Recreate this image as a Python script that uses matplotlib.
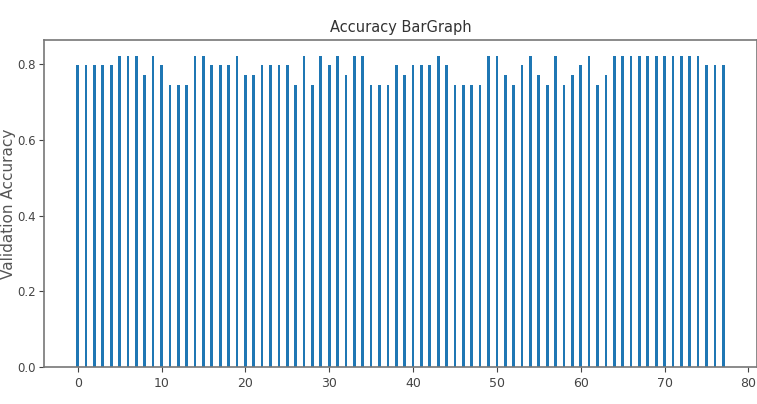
import numpy as np
import matplotlib
matplotlib.use('Agg')
import matplotlib.pyplot as plt

# poziomy dokladnosci
A = 0.823
B = 0.797
C = 0.772
D = 0.746

# kolejne proby (0..77)
proby = list(range(78))
dokladnosc = [
    B, B, B, B, B, A, A, A, C, A,
    B, D, D, D, A, A, B, B, B, A,
    C, C, B, B, B, B, D, A, D, A,
    B, A, C, A, A, D, D, D, B, C,
    B, B, B, A, B, D, D, D, D, A,
    A, C, D, B, A, C, D, A, D, C,
    B, A, D, C, A, A, A, A, A, A,
    A, A, A, A, A, B, B, B,
]

fig = plt.figure(figsize=(7.57, 4.04), dpi=100)
ax = fig.add_axes([0.058, 0.092, 0.942, 0.809])

ax.bar(proby, dokladnosc, width=0.32, color='#1f77b4')

ax.set_title("Accuracy BarGraph", fontsize=10.5, color='#333333')
ax.set_ylabel("Validation Accuracy", fontsize=11, color='#555555')
ax.yaxis.set_label_coords(-0.039, 0.5)
ax.set_xticks(np.arange(0, 81, 10))
ax.set_yticks([0.0, 0.2, 0.4, 0.6, 0.8])
ax.tick_params(axis='x', labelsize=9, colors='#444444')
ax.tick_params(axis='y', labelsize=8.5, colors='#444444', pad=2.5)
for s in ax.spines.values():
    s.set_color('#777777')
    s.set_linewidth(1.2)

fig.savefig("out.png", dpi=100)
